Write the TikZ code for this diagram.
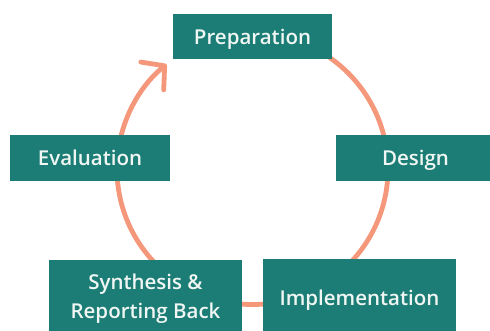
\documentclass[tikz,border=0pt]{standalone}
\usepackage{fontspec}
\setmainfont{Open Sans}
\IfFontExistsTF{Open Sans SemiBold}{\newfontfamily\boxfont{Open Sans SemiBold}\def\fsz{20.5}}{%
  \IfFontExistsTF{Open Sans Semibold}{\newfontfamily\boxfont{Open Sans Semibold}\def\fsz{20.5}}{%
    \newfontfamily\boxfont{Open Sans}[FakeBold=0.7]\def\fsz{21}}}
\usetikzlibrary{arrows.meta}
\definecolor{boxteal}{HTML}{1B7D75}
\definecolor{arcsalmon}{HTML}{F4977A}
\definecolor{boxtext}{HTML}{F0F6F3}
\begin{document}
\begin{tikzpicture}[x=1pt,y=1pt,
  phase/.style={fill=boxteal, draw=none, text=boxtext, inner sep=0pt, outer sep=0pt,
    font=\boxfont\fontsize{\fsz}{29}\selectfont, align=center},
  oneline/.style={text height=15.5pt, text depth=0pt},
  cyclearc/.style={draw=arcsalmon, line width=4.8pt, line cap=round,
    -{Straight Barb[length=16pt,width=36pt,round]}}]
\useasboundingbox (0,0) rectangle (490,330);
\coordinate (c) at (252.5,161);
\draw[cyclearc] (c) ++(85:135.5) arc[start angle=85, end angle=-230.6, radius=135.5];
\node[phase, oneline, minimum width=159pt, minimum height=45pt] (prep) at (252.5,293.5) {Preparation};
\node[phase, oneline, minimum width=160pt, minimum height=46pt] (eval) at (90,172) {Evaluation};
\node[phase, oneline, minimum width=159pt, minimum height=46pt] (design) at (415.5,172) {Design};
\node[phase, minimum width=193pt, minimum height=78pt] (synth) at (145.5,31) {Synthesis \&\\Reporting Back};
\node[phase, oneline, minimum width=193pt, minimum height=78pt] (impl) at (359.5,32) {Implementation};
\end{tikzpicture}
\end{document}
